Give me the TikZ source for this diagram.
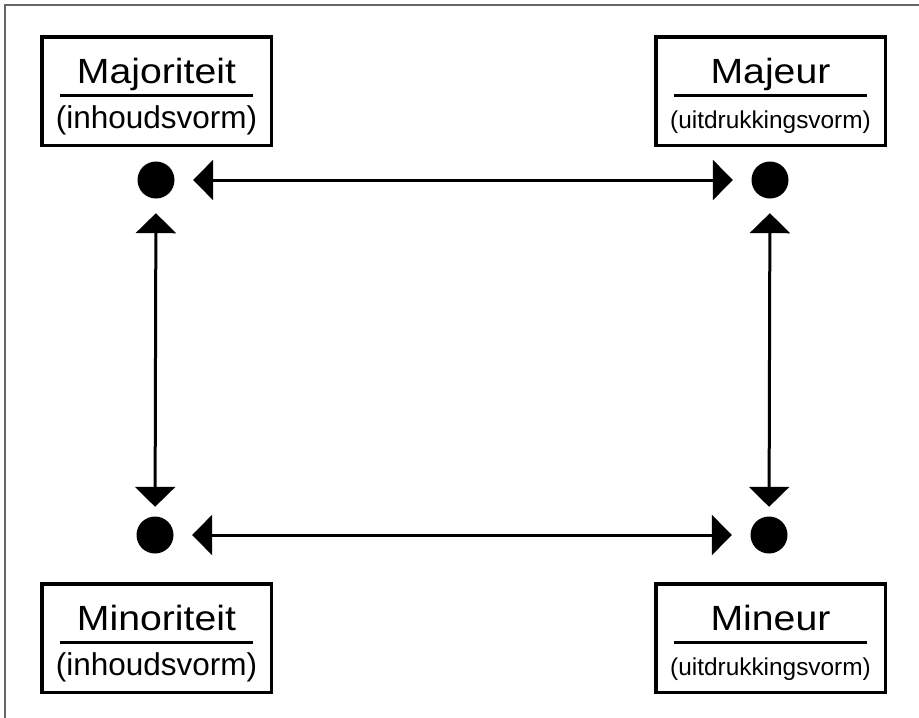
\documentclass[tikz,border=0pt]{standalone}
\usepackage{fontspec}
\setmainfont{Liberation Sans}
\usetikzlibrary{arrows.meta}
\newcommand\labelbox[6]{%
  \node[box] (#1) at (#2,#3) {};
  \node[title] (#1-t) at (#2,#3-8) {\scalebox{1.12}[1]{#4}};
  \draw[rule] (#2-96.5,#3+4) -- (#2+96.5,#3+4);
  \node[sub, font=\fontsize{#6}{#6}\selectfont] (#1-s) at (#2,#3+37) {#5};
}
\begin{document}
\begin{tikzpicture}[x=1pt,y=-1pt,
  box/.style={draw, line width=3.5pt, minimum width=229.5pt, minimum height=108.5pt, inner sep=0pt},
  title/.style={anchor=base, font=\fontsize{35}{35}\selectfont, inner sep=0pt},
  sub/.style={anchor=base, inner sep=0pt},
  dot/.style={circle, fill, minimum size=37pt, inner sep=0pt},
  link/.style={line width=3pt, {Triangle[length=20pt,width=40pt]}-{Triangle[length=20pt,width=40pt]}},
  rule/.style={line width=3pt}]
\useasboundingbox (0,0) rectangle (919,718);
\draw[black!60, line width=1.5pt] (5,720) -- (5,5) -- (921,5);

\labelbox{maj}{156.5}{91}{Majoriteit}{(inhoudsvorm)}{31.5}
\labelbox{mjr}{770.5}{91}{Majeur}{(uitdrukkingsvorm)}{24.4}
\labelbox{min}{156.5}{638}{Minoriteit}{(inhoudsvorm)}{31.5}
\labelbox{mnr}{770.5}{638}{Mineur}{(uitdrukkingsvorm)}{24.4}

\node[dot] (d1) at (156,180) {};
\node[dot] (d2) at (770,180) {};
\node[dot] (d3) at (155,535) {};
\node[dot] (d4) at (769,535) {};

\draw[link, shorten <=18.5pt, shorten >=18.5pt] (d1) -- (d2);
\draw[link, shorten <=18.5pt, shorten >=18.5pt] (d3) -- (d4);
\draw[link, shorten <=14.5pt, shorten >=9.5pt] (d1) -- (d3);
\draw[link, shorten <=14.5pt, shorten >=9.5pt] (d2) -- (d4);
\end{tikzpicture}
\end{document}
